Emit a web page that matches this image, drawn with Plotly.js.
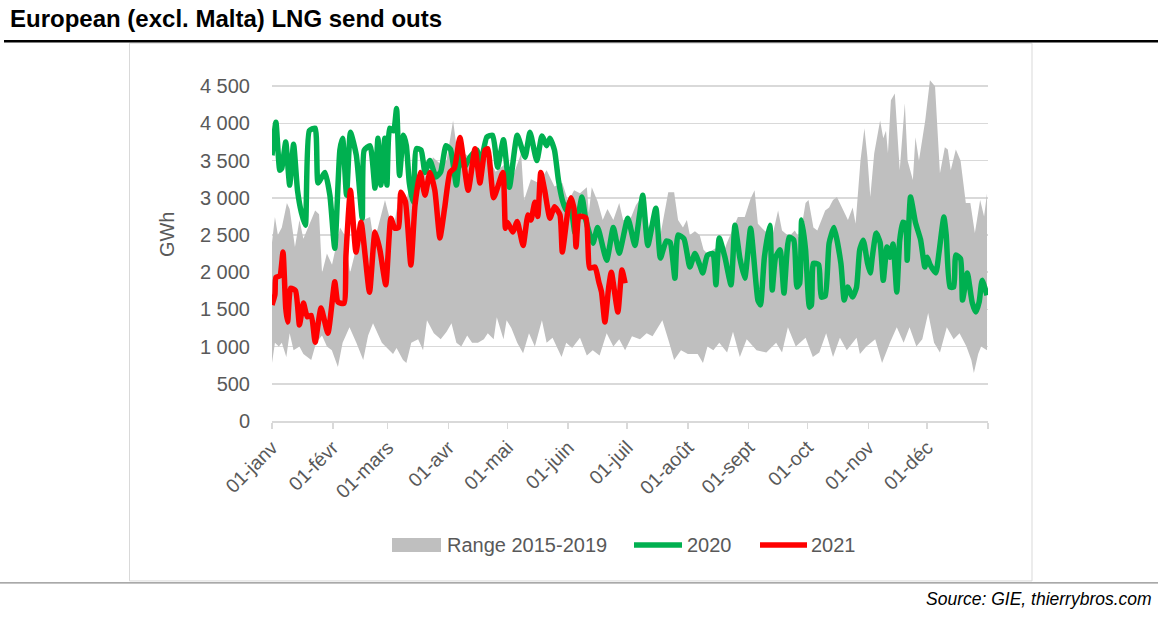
<!DOCTYPE html>
<html>
<head>
<meta charset="utf-8">
<script src="https://cdn.plot.ly/plotly-3.0.1.min.js"></script>
<style>
  html, body { margin: 0; padding: 0; background: #ffffff; }
  #chart { width: 1166px; height: 621px; }
</style>
</head>
<body>
<div id="chart"></div>
<script>
// ---------------- DATA (x = day of year, 0 = 01-janv) ----------------
const monthLabels = ['01-janv','01-févr','01-mars','01-avr','01-mai','01-juin','01-juil','01-août','01-sept','01-oct','01-nov','01-déc'];
const monthStartDays = [0,31,59,90,120,151,181,212,243,273,304,334];
const yearEndDay = 365;

const seriesNames = ['Range 2015-2019', '2020', '2021'];

// Range 2015-2019: upper envelope
const rangeUpperDays = [0,1.5,3,5,7.6,9,11.7,14,16,19,22,24,25.5,28,30.6,34.7,37,39.8,43,46.5,50,52,54,57.6,61.7,65,68,70,73,77,80,82,86,89,92.3,95,98,102.6,106,110,114,119.7,123,127,128.5,132,136,140,144,148,151,154,157,160.5,161.5,163,166,168.6,171,174,177,179,182.5,185.5,189,191.5,195,198,202,205,207,209.5,211.5,213,215.6,218,220,222,226,230,232,237.5,241,244,246,247.7,251,255,258,260,263.6,266.5,269,272,273.5,276,278,282,284,286,288,290.5,293.6,296,297.5,300,302,303.5,305,307,310,311.6,313,314,315.5,317.5,320,322.6,324,326.7,328,329.8,333,335.4,338,340.5,343,344.5,346,348.6,351,353.7,356,358.3,361,363,364.5];
const rangeUpperVals = [2400,2740,2500,2600,2930,2850,2340,2700,2450,2650,2830,2780,1990,2250,2100,2600,2500,1990,2340,2700,2740,2400,2600,2970,2550,3060,2900,3140,2950,3370,3200,3545,3450,3500,4040,3500,3600,3500,3400,3550,3350,3470,3300,3600,2970,3250,3200,3370,3150,3200,2950,3100,3060,3140,2800,3140,2950,2700,2850,2700,2930,2700,2700,2900,3035,2600,2700,2500,3075,3075,2700,2600,2700,2500,2550,2500,2300,2250,2320,2250,2400,2740,2740,2990,3100,2650,2560,2480,2830,2560,2480,2560,2450,2930,2970,2600,2560,2830,2870,2970,3010,2870,2700,2870,2650,3500,3935,3550,3010,3600,4040,3800,3900,3600,4310,4400,3370,4270,3500,3240,3815,3500,4040,4580,4500,3330,3680,3650,3370,3650,3500,2930,2930,2525,2970,2750,3060];

// Range 2015-2019: lower envelope
const rangeLowerDays = [0,1.5,3.5,5,7.3,9,11,14,16,20,22.5,25.5,28,30.5,33.6,36,39.5,43,46.5,49,51.5,56,61.7,63.5,66.8,68.5,71,74.5,77,79,82.5,86,89,91.5,94,96.5,99.5,102,105,108,110,113,114.6,118,119.6,122,125,128,131,134,137.6,140,143,147.6,150,153,157,160.5,163.5,167,170.6,174,177,180,183.5,187.6,191,194,199,202.5,205,208.5,212,217,219.7,222,225,228,232,235,238.5,242,247,252,257,260,263,267,272,275.7,279,282.5,286,289.5,293,298,299.7,303,307.5,311,315,318.5,322,325,328.5,331.5,334.5,337.5,340.5,344,347.5,350.5,354,356.5,357.8,360,361.5,364.5];
const rangeLowerVals = [780,1050,1000,1050,860,1180,950,1000,900,820,1050,1150,1000,950,725,1050,1260,1050,820,1150,1315,1050,900,980,820,780,1050,1100,950,1355,1180,1100,1200,1315,1050,1000,1150,1050,1050,1100,1180,1100,1395,1100,1355,1250,1050,910,1180,1000,1355,1050,1120,860,1050,980,1120,880,950,880,1180,1000,1100,950,1140,1100,1180,1140,1355,1050,820,950,900,900,780,1000,950,1050,920,1200,860,1100,950,920,1050,920,1260,1000,1120,860,920,1180,860,1120,950,1120,900,1000,1100,780,1050,1260,1050,1260,1000,1100,1450,1050,920,1260,1100,1180,1000,820,645,900,1000,950];

// 2020
const days2020 = [0,2,4,5,7,9,11,13,15,17,19,22,23.5,27,29.5,32,34.6,36,38,40,43,46,47,50,52.5,54,55.5,57.5,58.6,60,62,63.5,65,67,68.5,70,72,73.6,76,78,80.5,83.6,86,88.7,91,94,96,98,101,104.5,106,109.5,112.5,115,118,121,125,129,131.5,135,137.6,140,141.7,144,146,148,150,152,154.5,158,160,163.6,166,170.6,174,177,181.4,185,187,189,191.6,195.7,198,201,203,205.4,207,210,213,215.6,218,219.6,222,224.8,226.3,228,230.9,234,236,238.5,241,244,247.7,249,251,253.8,255,256.7,259,261,263.6,266,267.6,269,270,272,274,275,276,278.7,280,282,284,286.5,290,291.7,293.5,296,298,299.6,301.4,303.6,305,306,308,310,311.6,313.5,315,316.6,318.5,320,321.6,323,323.8,325.5,328,330.6,332.8,334,335.5,338.4,340,342.5,343.7,345.6,347.5,348.6,351,352,354.5,355.7,357,358.8,360.5,362,364.5];
const vals2020 = [3570,4015,3370,3400,3750,3170,3720,3100,2800,2630,3900,3935,3200,3340,3035,2320,3640,3800,3035,3880,3570,2725,3640,3700,3130,3800,3170,3800,3170,3935,3900,4200,3300,3840,3700,3200,2940,3660,3640,3340,3500,3280,3350,3700,3650,3170,3640,3410,3550,3640,3410,3815,3840,3410,3780,3140,3840,3545,3880,3500,3830,3700,3800,3640,3240,2970,2830,2950,2525,3010,2700,2390,2600,2160,2600,2255,2725,2360,2700,3035,2360,2860,2190,2420,2400,1920,2500,2450,2070,2250,2100,1990,2230,2250,1830,2460,2200,1830,2630,2190,1920,2590,1625,1560,2200,2630,1760,2200,2300,1720,2470,2430,1800,1850,2700,2300,1530,1560,2120,2100,1665,1680,2390,2600,2120,1625,1800,1665,1800,2300,2430,2120,1990,2200,2525,2400,1890,2340,2200,2380,1735,2430,2670,2650,2160,3010,2670,2440,2070,2200,2100,1990,2260,2740,2500,1800,1800,2230,2180,1625,1990,1800,1585,1465,1600,1890,1690];

// 2021
const days2021 = [0,1.5,2,4,5.6,7,8,9.5,12,14,16,18,20,22,25,28.5,32,33.6,36.7,37.7,40,42.8,45.4,49.7,52.5,55,58,60.6,62.6,64.5,65.7,68,70.8,72.9,75.5,78,80.5,83,85.6,88,90.7,93,95.8,100,103.5,106,108.6,110,113,117.7,119,120,122.8,125,128,130.5,132,134,135.5,137,139,141.7,144,146.8,148,151,152.4,154,155,156.6,160,162,164.7,166.6,168,169.7,171.6,173,176.3,178.4,180];
const vals2021 = [1560,1700,1930,1950,2270,1520,1330,1785,1750,1290,1585,1400,1420,1060,1520,1180,1870,1600,1580,2230,3100,2270,2670,1730,2540,2300,1830,2725,2590,2600,3075,2950,2095,2900,3340,3035,3340,3100,2460,2860,3340,3400,3810,3100,3660,3200,3640,3660,3000,3340,2590,2670,2540,2680,2360,2770,2700,2940,2750,3340,3100,2725,2880,2770,2270,2860,3000,2850,2340,2750,2730,2055,2070,1870,1730,1330,1790,2000,1465,2030,1850];

const yTickVals = [0,500,1000,1500,2000,2500,3000,3500,4000,4500];
const yAxisTop = 4650; // leaves room for the band peak above the 4 500 gridline, as in the original

// ---------------- LAYOUT GEOMETRY ----------------
const W = 1166, H = 621;
const PL = 272, PR = 988, PB = 421;
const PX_PER_UNIT = 335 / 4500;             // 4 500 GWh spans 335 px
const PT = PB - yAxisTop * PX_PER_UNIT;     // top of the plotting area
const px2x = px => (px - PL) / (PR - PL);
const px2y = py => (PB - py) / (PB - PT);

const GRAY = '#bfbfbf', GREEN = '#00b050', RED = '#ff0000';
const TXT = '#595959';
const FONT = 'Liberation Sans, Arial, sans-serif';

const bandX = rangeUpperDays.concat(rangeLowerDays.slice().reverse());
const bandY = rangeUpperVals.concat(rangeLowerVals.slice().reverse());

const LW = 5.5;
const traces = [
  { x: bandX, y: bandY, type: 'scatter', mode: 'lines', fill: 'toself',
    fillcolor: GRAY, line: { width: 0, color: GRAY }, name: seriesNames[0],
    showlegend: false, hoverinfo: 'skip' },
  { x: days2020, y: vals2020, type: 'scatter', mode: 'lines', name: seriesNames[1],
    line: { color: GREEN, width: LW, shape: 'spline', smoothing: 0.5 }, showlegend: false, hoverinfo: 'skip' },
  { x: days2021, y: vals2021, type: 'scatter', mode: 'lines', name: seriesNames[2],
    line: { color: RED, width: LW, shape: 'spline', smoothing: 0.5 }, showlegend: false, hoverinfo: 'skip' }
];

const legY = 545;
const shapes = [
  // title underline
  { type: 'line', xref: 'paper', yref: 'paper', x0: px2x(4), x1: px2x(1158), y0: px2y(41), y1: px2y(41),
    line: { color: '#000000', width: 2.5 } },
  // chart box
  { type: 'rect', xref: 'paper', yref: 'paper', x0: px2x(129.5), x1: px2x(1032), y0: px2y(43), y1: px2y(581),
    line: { color: '#d9d9d9', width: 1 }, fillcolor: 'rgba(0,0,0,0)', layer: 'below' },
  // bottom separator
  { type: 'line', xref: 'paper', yref: 'paper', x0: px2x(0), x1: px2x(1158), y0: px2y(583), y1: px2y(583),
    line: { color: '#8c8c8c', width: 1.2 } },
  // legend symbols
  { type: 'rect', xref: 'paper', yref: 'paper', x0: px2x(392), x1: px2x(441), y0: px2y(legY - 7), y1: px2y(legY + 7),
    line: { width: 0 }, fillcolor: GRAY },
  { type: 'line', xref: 'paper', yref: 'paper', x0: px2x(634), x1: px2x(682), y0: px2y(legY), y1: px2y(legY),
    line: { color: GREEN, width: LW } },
  { type: 'line', xref: 'paper', yref: 'paper', x0: px2x(760), x1: px2x(807), y0: px2y(legY), y1: px2y(legY),
    line: { color: RED, width: LW } }
];

const annotations = [
  { xref: 'paper', yref: 'paper', x: px2x(167), y: px2y(234), text: 'GWh', showarrow: false,
    textangle: -90, font: { family: FONT, size: 20, color: TXT }, xanchor: 'center', yanchor: 'middle' },
  { xref: 'paper', yref: 'paper', x: px2x(445), y: px2y(legY), text: seriesNames[0], showarrow: false,
    font: { family: FONT, size: 20, color: TXT }, xanchor: 'left', yanchor: 'middle' },
  { xref: 'paper', yref: 'paper', x: px2x(685), y: px2y(legY), text: seriesNames[1], showarrow: false,
    font: { family: FONT, size: 20, color: TXT }, xanchor: 'left', yanchor: 'middle' },
  { xref: 'paper', yref: 'paper', x: px2x(809), y: px2y(legY), text: seriesNames[2], showarrow: false,
    font: { family: FONT, size: 20, color: TXT }, xanchor: 'left', yanchor: 'middle' },
  { xref: 'paper', yref: 'paper', x: px2x(1154), y: px2y(599), text: '<i>Source: GIE, thierrybros.com</i>',
    showarrow: false, font: { family: FONT, size: 17.5, color: '#000000' }, xanchor: 'right', yanchor: 'middle' }
];

const layout = {
  width: W, height: H,
  margin: { l: PL, r: W - PR, t: PT, b: H - PB, pad: 0 },
  paper_bgcolor: '#ffffff', plot_bgcolor: '#ffffff',
  separators: '. ',
  showlegend: false,
  title: { text: '<b>European (excl. Malta) LNG send outs</b>', x: 10 / W, xref: 'container', xanchor: 'left',
           y: 1 - 19 / H, yref: 'container', yanchor: 'middle',
           font: { family: FONT, size: 24, color: '#000000' } },
  xaxis: {
    range: [0, yearEndDay], tickmode: 'array',
    tickvals: monthStartDays.concat([yearEndDay]), ticktext: monthLabels.concat(['']),
    tickangle: -45, ticks: 'outside', ticklen: 6, tickcolor: '#d9d9d9', tickwidth: 1.5,
    showline: true, linecolor: '#d9d9d9', linewidth: 1.5, showgrid: false, zeroline: false,
    tickfont: { family: FONT, size: 19.5, color: TXT }, fixedrange: true
  },
  yaxis: {
    range: [0, yAxisTop], tickmode: 'array', tickvals: yTickVals, tickformat: ',d',
    showgrid: true, gridcolor: '#d9d9d9', gridwidth: 1.5, zeroline: false, showline: false,
    ticks: '', ticklabelstandoff: 21,
    tickfont: { family: FONT, size: 20, color: TXT }, fixedrange: true
  },
  shapes: shapes,
  annotations: annotations
};

Plotly.newPlot('chart', traces, layout, { displayModeBar: false, staticPlot: true });
</script>
</body>
</html>
